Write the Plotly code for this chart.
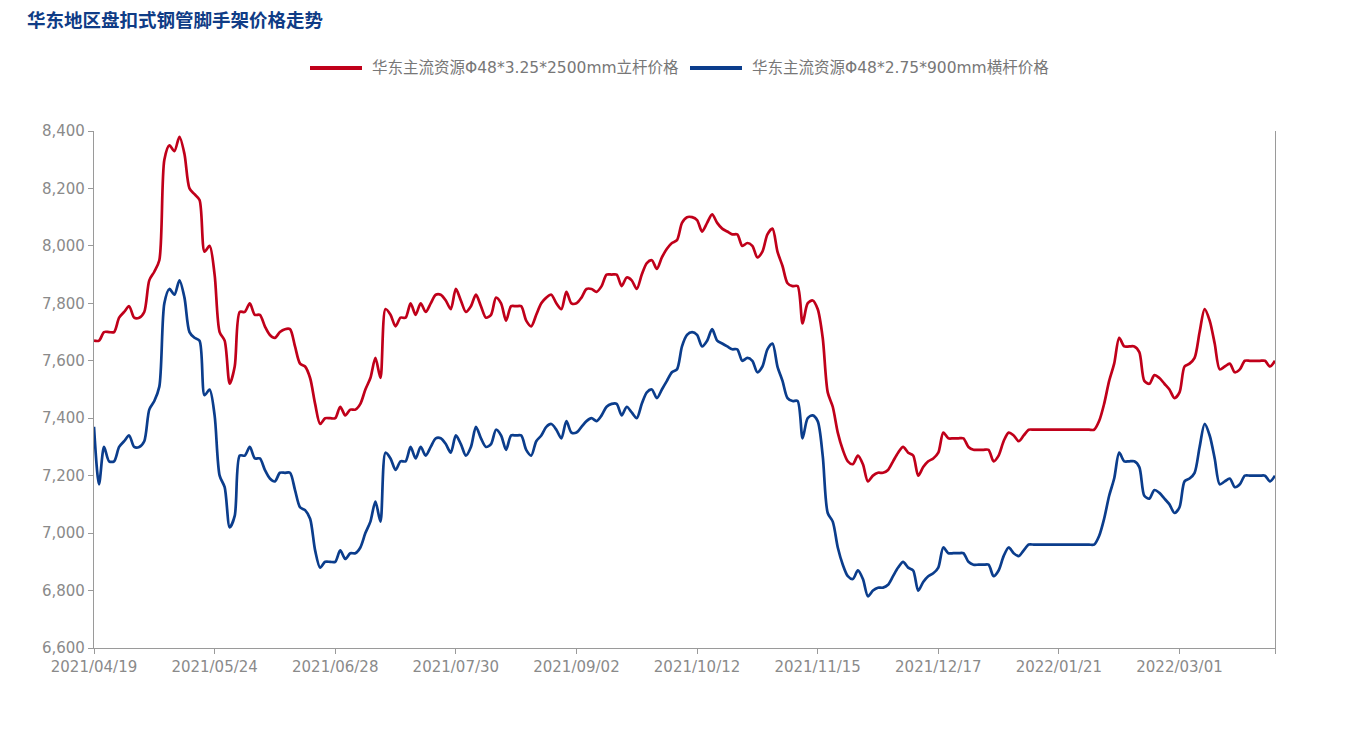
import plotly.graph_objects as go

# 交易日序号（每 24 个交易日一个标签）
date_labels = ["2021/04/19", "2021/05/24", "2021/06/28", "2021/07/30", "2021/09/02",
               "2021/10/12", "2021/11/15", "2021/12/17", "2022/01/21", "2022/03/01"]

upright_name = "华东主流资源Φ48*3.25*2500mm立杆价格"
upright_price = [
    7670, 7670, 7700, 7700, 7700, 7750, 7770, 7790, 7750, 7750,
    7770, 7880, 7910, 7950, 8300, 8350, 8330, 8380, 8320, 8200,
    8180, 8160, 7980, 8000, 7900, 7700, 7670, 7520, 7580, 7770,
    7770, 7800, 7760, 7760, 7720, 7690, 7680, 7700, 7710, 7710,
    7650, 7590, 7580, 7540, 7450, 7380, 7400, 7400, 7400, 7440,
    7410, 7430, 7430, 7450, 7500, 7540, 7610, 7540, 7780, 7760,
    7720, 7750, 7750, 7800, 7760, 7800, 7770, 7800, 7830, 7830,
    7810, 7780, 7850, 7810, 7770, 7790, 7830, 7790, 7750, 7760,
    7820, 7800, 7740, 7790, 7790, 7790, 7740, 7720, 7760, 7800,
    7820, 7830, 7800, 7780, 7840, 7800, 7800, 7820, 7850, 7850,
    7840, 7860, 7900, 7900, 7900, 7860, 7890, 7880, 7850, 7900,
    7940, 7950, 7920, 7960, 7990, 8010, 8020, 8080, 8100, 8100,
    8090, 8050, 8080, 8110, 8080, 8060, 8050, 8040, 8040, 8000,
    8010, 8000, 7960, 7980, 8040, 8060, 7980, 7930, 7870, 7860,
    7860, 7730, 7800, 7810, 7780, 7680, 7490, 7440, 7350, 7290,
    7250, 7240, 7270, 7240, 7180, 7200, 7210, 7210, 7220, 7250,
    7280, 7300, 7280, 7270, 7200, 7230, 7250, 7260, 7280, 7350,
    7330, 7330, 7330, 7330, 7300, 7290, 7290, 7290, 7290, 7250,
    7270, 7320, 7350, 7340, 7320, 7340, 7360, 7360, 7360, 7360,
    7360, 7360, 7360, 7360, 7360, 7360, 7360, 7360, 7360, 7360,
    7390, 7450, 7530, 7590, 7680, 7650, 7650, 7650, 7630, 7530,
    7520, 7550, 7540, 7520, 7500, 7470, 7490, 7580, 7590, 7610,
    7700, 7780, 7740, 7660, 7570, 7580, 7590, 7560, 7570, 7600,
    7600, 7600, 7600, 7600, 7580, 7600,
]

crossbar_name = "华东主流资源Φ48*2.75*900mm横杆价格"
crossbar_price = [
    7370, 7170, 7300, 7250, 7250, 7300, 7320, 7340, 7300, 7300,
    7320, 7430, 7460, 7510, 7800, 7850, 7830, 7880, 7820, 7700,
    7680, 7670, 7480, 7500, 7410, 7200, 7160, 7020, 7060, 7270,
    7270, 7300, 7260, 7260, 7220, 7190, 7180, 7210, 7210, 7210,
    7150, 7090, 7080, 7050, 6940, 6880, 6900, 6900, 6900, 6940,
    6910, 6930, 6930, 6950, 7000, 7040, 7110, 7040, 7280, 7260,
    7220, 7250, 7250, 7300, 7260, 7300, 7270, 7300, 7330, 7330,
    7310, 7280, 7340, 7310, 7270, 7300, 7370, 7330, 7300, 7310,
    7360, 7340, 7290, 7340, 7340, 7340, 7290, 7270, 7320, 7340,
    7370, 7380, 7360, 7330, 7390, 7350, 7350, 7370, 7390, 7400,
    7390, 7410, 7440, 7450, 7450, 7410, 7440, 7420, 7400, 7450,
    7490, 7500, 7470, 7500, 7530, 7560, 7570, 7650, 7690, 7700,
    7690, 7650, 7670, 7710, 7670, 7660, 7650, 7640, 7640, 7600,
    7610, 7600, 7560, 7580, 7640, 7660, 7580, 7530, 7470, 7460,
    7460, 7330, 7400, 7410, 7390, 7270, 7070, 7040, 6950, 6890,
    6850, 6840, 6870, 6840, 6780, 6800, 6810, 6810, 6820, 6850,
    6880, 6900, 6880, 6870, 6800, 6830, 6850, 6860, 6880, 6950,
    6930, 6930, 6930, 6930, 6900, 6890, 6890, 6890, 6890, 6850,
    6870, 6920, 6950, 6930, 6920, 6940, 6960, 6960, 6960, 6960,
    6960, 6960, 6960, 6960, 6960, 6960, 6960, 6960, 6960, 6960,
    6990, 7050, 7130, 7190, 7280, 7250, 7250, 7250, 7230, 7130,
    7120, 7150, 7140, 7120, 7100, 7070, 7090, 7180, 7190, 7210,
    7300, 7380, 7340, 7260, 7170, 7180, 7190, 7160, 7170, 7200,
    7200, 7200, 7200, 7200, 7180, 7200,
]

n = len(upright_price)
idx = list(range(n))
tick_idx = list(range(0, n, 24)) + [n - 1]
tick_txt = date_labels + [""]

RED = "#c0001a"
BLUE = "#0b3d8c"
GRAY = "#8a8a8a"
AXIS = "#9a9a9a"
LATIN = "DejaVu Sans, Noto Sans CJK SC, sans-serif"

W, H = 1355, 748
ML, MR, MT, MB = 86, 88, 123, 108   # page has an 8px body margin
plot_w = W - ML - MR
plot_h = H - MT - MB


def px_x(p):  # figure pixel -> paper x
    return (p - ML) / plot_w


def px_y(p):  # figure pixel (from top) -> paper y
    return 1 - (p - MT) / plot_h


fig = go.Figure()
fig.add_trace(go.Scatter(x=idx, y=upright_price, mode="lines", name=upright_name,
                         line=dict(color=RED, width=2.7, shape="spline", smoothing=0.8)))
fig.add_trace(go.Scatter(x=idx, y=crossbar_price, mode="lines", name=crossbar_name,
                         line=dict(color=BLUE, width=2.7, shape="spline", smoothing=0.8)))

# hand-drawn legend (longer, thicker swatches than plotly's own)
legend_y = 60
for color, name, x0 in [(RED, upright_name, 302), (BLUE, crossbar_name, 682)]:
    fig.add_shape(type="line", xref="paper", yref="paper",
                  x0=px_x(x0), x1=px_x(x0 + 52), y0=px_y(legend_y), y1=px_y(legend_y),
                  line=dict(color=color, width=4))
    fig.add_annotation(xref="paper", yref="paper", x=px_x(x0 + 60), y=px_y(legend_y),
                       xanchor="left", yanchor="middle", showarrow=False, text=name,
                       font=dict(size=15.5, color="#777777", family=LATIN))

fig.update_layout(
    width=W, height=H,
    paper_bgcolor="white", plot_bgcolor="white",
    margin=dict(l=ML, r=MR, t=MT, b=MB),
    font=dict(family=LATIN, color=GRAY, size=15),
    title=dict(text="<b>华东地区盘扣式钢管脚手架价格走势</b>",
               xref="container", yref="container", x=19 / W, y=1 - 13 / H,
               xanchor="left", yanchor="middle",
               font=dict(size=18.5, color="#0f3c86", family="Noto Sans CJK SC, sans-serif")),
    showlegend=False,
)

fig.update_xaxes(range=[0, n - 1], tickmode="array", tickvals=tick_idx, ticktext=tick_txt,
                 showgrid=False, zeroline=False, showline=True, linecolor=AXIS, linewidth=1.2,
                 ticks="outside", ticklen=5, tickcolor=AXIS,
                 tickfont=dict(size=15, color=GRAY, family=LATIN))
fig.update_yaxes(range=[6600, 8400], tickmode="array", tickvals=list(range(6600, 8401, 200)),
                 tickformat=",", showgrid=False, zeroline=False,
                 showline=True, linecolor=AXIS, linewidth=1.2, mirror=True,
                 ticks="outside", ticklen=5, tickcolor=AXIS,
                 tickfont=dict(size=15, color=GRAY, family=LATIN))

fig.write_html("out.html")
